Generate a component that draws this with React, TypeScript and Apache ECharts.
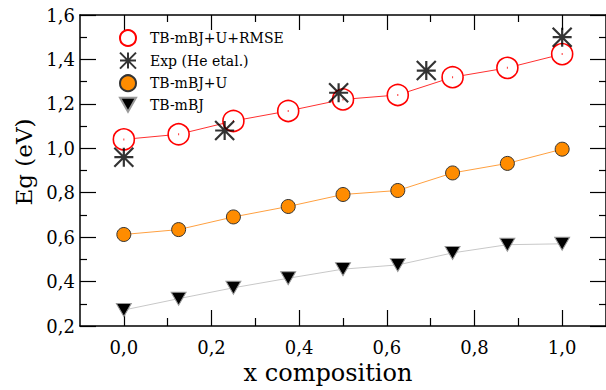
import React, { useEffect, useRef } from 'react';
import * as echarts from 'echarts';

const xComp = [0, 0.125, 0.25, 0.375, 0.5, 0.625, 0.75, 0.875, 1.0];
const rmseVals = [1.04, 1.063, 1.123, 1.168, 1.22, 1.24, 1.32, 1.362, 1.424];
const plusUVals = [0.612, 0.634, 0.691, 0.738, 0.792, 0.81, 0.889, 0.932, 0.996];
const mbjVals = [0.272, 0.323, 0.372, 0.415, 0.456, 0.475, 0.529, 0.566, 0.57];
const expX = [0, 0.23, 0.49, 0.69, 1.0];
const expVals = [0.96, 1.08, 1.25, 1.35, 1.5];

const xMajorTicks = [0, 0.2, 0.4, 0.6, 0.8, 1.0];
const xMinorTicks = [0.1, 0.3, 0.5, 0.7, 0.9];
const yMajorTicks = [0.2, 0.4, 0.6, 0.8, 1.0, 1.2, 1.4, 1.6];
const yMinorTicks = [0.3, 0.5, 0.7, 0.9, 1.1, 1.3, 1.5];

const seriesNames = ['TB-mBJ+U+RMSE', 'Exp (He etal.)', 'TB-mBJ+U', 'TB-mBJ'];
const xTitle = 'x composition';
const yTitle = 'Eg (eV)';

const FONT = "'DejaVu Serif', serif";
const STAR = 'path://M0,0L20,20M20,0L0,20M10,0L10,20M0,10L20,10';
const TRI_DOWN = 'path://M0,0L16,0L8,14Z';

const fmt = (v: number) => v.toFixed(1).replace('.', ',');
const pairs = (xs: number[], ys: number[]) => xs.map((x, i) => [x, ys[i]]);

function makeAxis(kind: 'x' | 'y', position: string, ticks: number[], len: number, withLine: boolean, withLabel: boolean, extra: any = {}) {
  const base: any = {
    type: 'value',
    position,
    min: kind === 'x' ? -0.1 : 0.2,
    max: kind === 'x' ? 1.1 : 1.6,
    splitLine: { show: false },
    axisLine: { show: withLine, onZero: false, lineStyle: { color: '#000', width: 1.5 } },
    axisTick: { show: true, inside: true, length: len, customValues: ticks, lineStyle: { color: '#000', width: 1.2 } },
    axisLabel: withLabel
      ? {
          show: true,
          customValues: ticks,
          formatter: fmt,
          color: '#000',
          fontFamily: FONT,
          fontSize: 18,
          margin: kind === 'x' ? 12 : 5,
        }
      : { show: false },
  };
  return Object.assign(base, extra);
}

export default function App() {
  const ref = useRef<HTMLDivElement>(null);
  useEffect(() => {
    if (!ref.current) return;
    const chart = echarts.init(ref.current, undefined, { renderer: 'svg' });
    const option: any = {
      animation: false,
      backgroundColor: '#fff',
      textStyle: { fontFamily: FONT },
      grid: { left: 80, top: 15, right: -10, bottom: 62, containLabel: false },
      legend: {
        orient: 'vertical',
        left: 119,
        top: 29,
        padding: 0,
        itemWidth: 16,
        itemHeight: 16,
        itemGap: 4.6,
        textStyle: { fontFamily: FONT, fontSize: 14, lineHeight: 16, color: '#000', padding: [0, 0, 0, 9] },
        data: [
          { name: seriesNames[0], icon: 'circle' },
          { name: seriesNames[1], icon: STAR },
          { name: seriesNames[2], icon: 'circle' },
          { name: seriesNames[3], icon: TRI_DOWN },
        ],
      },
      xAxis: [
        makeAxis('x', 'bottom', xMajorTicks, 16, true, true, {
          name: xTitle,
          nameLocation: 'middle',
          nameGap: 35,
          nameTextStyle: { fontFamily: FONT, fontSize: 24, color: '#000', padding: [0, 30, 0, 0] },
        }),
        makeAxis('x', 'bottom', xMinorTicks, 8, false, false),
        makeAxis('x', 'top', xMajorTicks, 15, true, false),
        makeAxis('x', 'top', xMinorTicks, 7, false, false),
      ],
      yAxis: [
        makeAxis('y', 'left', yMajorTicks, 16, true, true, {
          name: yTitle,
          nameLocation: 'middle',
          nameGap: 35,
          nameTextStyle: { fontFamily: FONT, fontSize: 23, color: '#000', padding: [0, 0, 0, 17] },
        }),
        makeAxis('y', 'left', yMinorTicks, 7, false, false),
        makeAxis('y', 'right', yMajorTicks, 16, true, false),
        makeAxis('y', 'right', yMinorTicks, 7, false, false),
      ],
      series: [
        {
          name: seriesNames[0],
          type: 'line',
          z: 2,
          data: pairs(xComp, rmseVals),
          symbol: 'circle',
          symbolSize: 21,
          lineStyle: { color: '#ff3030', width: 1 },
          itemStyle: { color: '#fff', borderColor: '#ff0000', borderWidth: 1.6 },
        },
        {
          name: 'rmse-center',
          type: 'scatter',
          z: 3,
          data: pairs(xComp, rmseVals),
          symbol: 'rect',
          symbolSize: [1, 2],
          itemStyle: { color: '#ff0000' },
          silent: true,
        },
        {
          name: seriesNames[1],
          type: 'scatter',
          z: 5,
          data: pairs(expX, expVals),
          symbol: STAR,
          symbolSize: 19,
          itemStyle: { color: '#000', borderColor: '#000', borderWidth: 2.2 },
        },
        {
          name: seriesNames[2],
          type: 'line',
          z: 2,
          data: pairs(xComp, plusUVals),
          symbol: 'circle',
          symbolSize: 14,
          lineStyle: { color: '#ffa040', width: 1 },
          itemStyle: { color: '#ff8c00', borderColor: '#333', borderWidth: 1 },
        },
        {
          name: seriesNames[3],
          type: 'line',
          z: 2,
          data: pairs(xComp, mbjVals),
          symbol: TRI_DOWN,
          symbolSize: [15, 13],
          lineStyle: { color: '#c8c8c8', width: 1 },
          itemStyle: { color: '#000', borderColor: '#999', borderWidth: 1 },
        },
      ],
    };
    chart.setOption(option);
    return () => chart.dispose();
  }, []);
  return <div ref={ref} style={{ width: 606, height: 390, position: 'absolute', left: 0, top: 0 }} />;
}
